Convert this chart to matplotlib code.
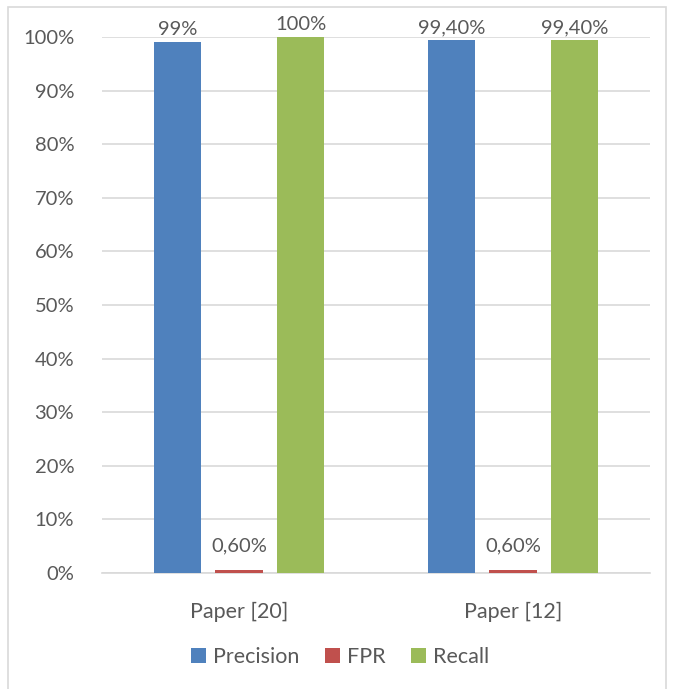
import matplotlib
matplotlib.use("Agg")
import matplotlib.pyplot as plt
from matplotlib.patches import Rectangle
import numpy as np

categories = ["Paper [20]", "Paper [12]"]
series_names = ["Precision", "FPR", "Recall"]
precision = [99.0, 99.4]
fpr = [0.6, 0.6]
recall = [100.0, 99.4]
precision_labels = ["99%", "99,40%"]
fpr_labels = ["0,60%", "0,60%"]
recall_labels = ["100%", "99,40%"]
yticks = [0, 10, 20, 30, 40, 50, 60, 70, 80, 90, 100]
ytick_labels = [f"{v}%" for v in yticks]

colors = ["#4F81BD", "#C0504D", "#9BBB59"]
txt = "#595959"
grid = "#D9D9D9"
plt.rcParams['font.family'] = ['Lato', 'DejaVu Sans']

fig = plt.figure(figsize=(6.74, 6.89), dpi=100)
fig.patches.append(Rectangle((8/674, -0.01), 658/674, 1 - 7/689 + 0.01,
                             transform=fig.transFigure, fill=False,
                             edgecolor=grid, linewidth=1.2))
ax = fig.add_axes([102/674, 1 - 573/689, 548/674, 536/689])

x = np.arange(len(categories))
w = 0.175
step = 0.2245
all_vals = [precision, fpr, recall]
all_labels = [precision_labels, fpr_labels, recall_labels]
for i, (vals, labs, name, c) in enumerate(zip(all_vals, all_labels, series_names, colors)):
    pos = x + (i - 1) * step
    bars = ax.bar(pos, vals, width=w, color=c, label=name, zorder=3)
    for b, lab in zip(bars, labs):
        ax.annotate(lab, (b.get_x() + b.get_width() / 2, b.get_height()),
                    xytext=(0, 3 if b.get_height() > 50 else 11),
                    textcoords="offset points", ha="center", va="bottom",
                    fontsize=14.5, color=txt, zorder=4)

ax.set_xlim(-0.5, 1.5)
ax.set_ylim(0, 100)
ax.set_yticks(yticks)
ax.set_yticklabels(ytick_labels)
ax.set_xticks(x)
ax.set_xticklabels(categories)
ax.tick_params(axis='y', length=0, pad=20, labelsize=14.5, labelcolor=txt)
ax.tick_params(axis='x', length=0, pad=21, labelsize=15.5, labelcolor=txt)
ax.yaxis.grid(True, color=grid, linewidth=1.2, zorder=0)
ax.set_axisbelow(True)
for s in ["left", "right", "top"]:
    ax.spines[s].set_visible(False)
ax.spines["bottom"].set_color(grid)
ax.spines["bottom"].set_linewidth(1.2)

leg = fig.legend(loc="center", bbox_to_anchor=(340/674, 1 - 657/689), ncol=3,
                 frameon=False, fontsize=15.5, handlelength=0.7, handleheight=0.7,
                 handletextpad=0.3, columnspacing=1.2)
for t in leg.get_texts():
    t.set_color(txt)

fig.savefig("out.png", dpi=100)
